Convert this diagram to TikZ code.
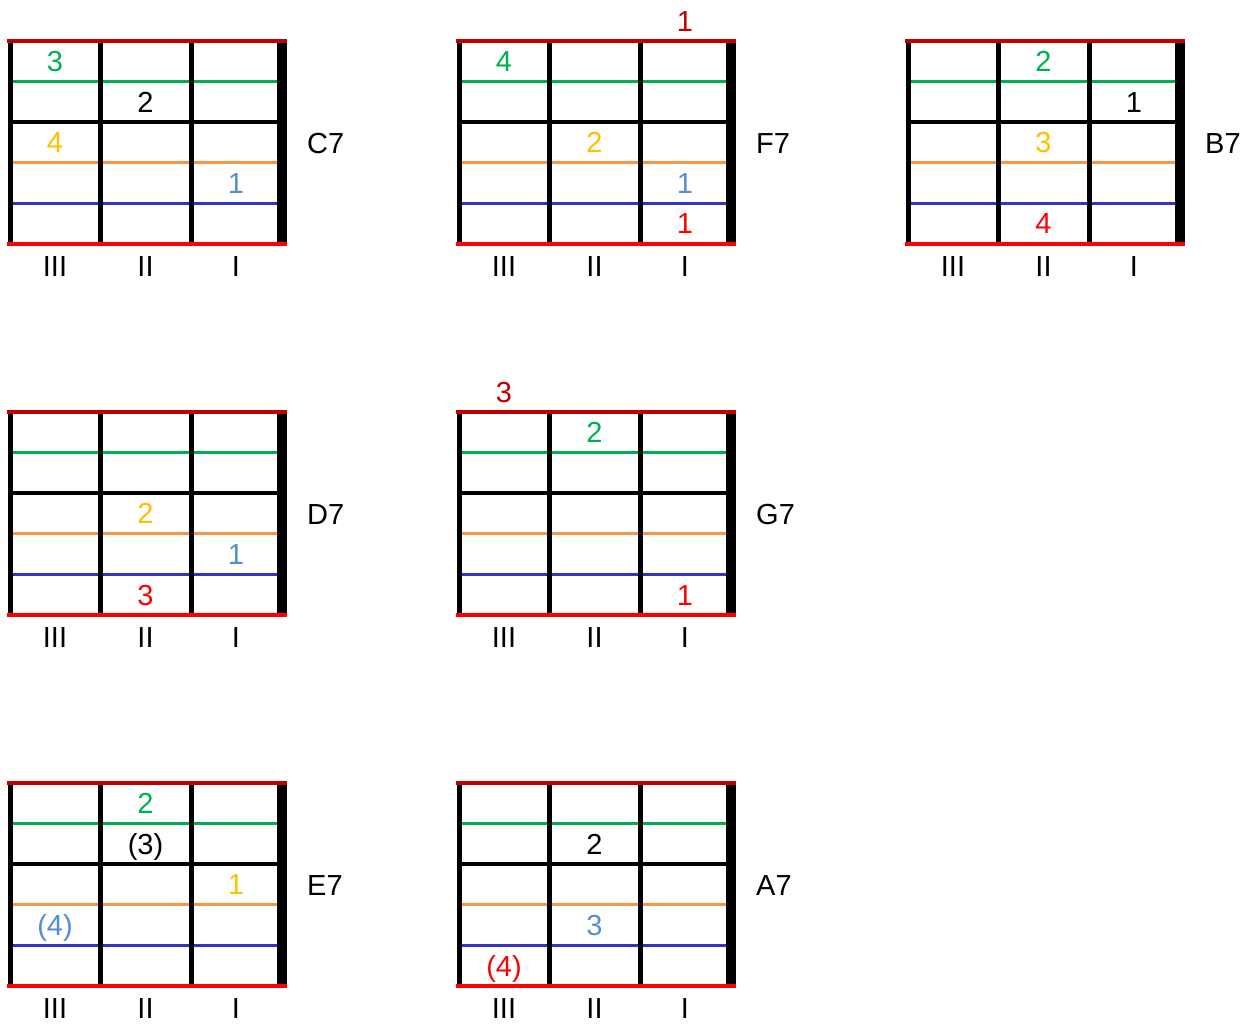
\documentclass[tikz,border=0pt]{standalone}
\usepackage{fontspec}
\setmainfont{Liberation Sans}
\definecolor{dred}{HTML}{C00000}
\definecolor{bred}{HTML}{FF0000}
\definecolor{sgreen}{HTML}{00B050}
\definecolor{sorange}{HTML}{F79646}
\definecolor{syellow}{HTML}{FFC000}
\definecolor{sblue}{HTML}{3333CC}
\definecolor{lblue}{HTML}{558ED5}
\tikzset{
  fnum/.style={anchor=base, inner sep=0pt, font=\fontsize{29}{31}\selectfont},
  wire/.style={line width=3.3pt},
  vbar/.style={line width=5pt, black},
  nutbar/.style={line width=10pt, black},
  edge/.style={line width=3.5pt},
}
\newcommand\cellnum[5]{%
  \pgfmathsetmacro\cx{55+90.5*(#1-1)}%
  \pgfmathsetmacro\cy{41+40.6*(#2-0.5)+10.3}%
  \node[fnum,text=#3] (#5) at (\cx,\cy) {#4};}
\newcommand\fretboard[5]{%
  \begin{scope}[shift={(#1,#2)}]
    \draw[wire,sgreen] (12,81.5) -- (277,81.5);
    \draw[wire,black] (12,122) -- (277,122);
    \draw[wire,sorange] (12,162.7) -- (277,162.7);
    \draw[wire,sblue] (12,203.5) -- (277,203.5);
    \draw[vbar] (10,41) -- (10,244);
    \draw[vbar] (100,41) -- (100,244);
    \draw[vbar] (191,41) -- (191,244);
    \draw[nutbar] (282,43) -- (282,244);
    \draw[edge,dred] (7,41) -- (287,41);
    \draw[edge,bred] (7,244) -- (287,244);
    \node[fnum] (#3-III) at (55,276.5) {III};
    \node[fnum] (#3-II) at (145.5,276.5) {II};
    \node[fnum] (#3-I) at (236,276.5) {I};
    \node[fnum,anchor=base west] (#3-name) at (307,153.5) {#3};
    #5
  \end{scope}}
\begin{document}
\begin{tikzpicture}[x=1pt,y=-1pt]
\useasboundingbox[fill=white] (0,0) rectangle (1254,1024);
% C7
\fretboard{0}{0}{C7}{}{%
  \cellnum{1}{1}{sgreen}{3}{c7a}
  \cellnum{2}{2}{black}{2}{c7b}
  \cellnum{1}{3}{syellow}{4}{c7c}
  \cellnum{3}{4}{lblue}{1}{c7d}}
% F7
\fretboard{449}{0}{F7}{}{%
  \node[fnum,text=dred] (f7top) at (236,31.5) {1};
  \cellnum{1}{1}{sgreen}{4}{f7a}
  \cellnum{2}{3}{syellow}{2}{f7b}
  \cellnum{3}{4}{lblue}{1}{f7c}
  \cellnum{3}{5}{bred}{1}{f7d}}
% B7
\fretboard{898}{0}{B7}{}{%
  \cellnum{2}{1}{sgreen}{2}{b7a}
  \cellnum{3}{2}{black}{1}{b7b}
  \cellnum{2}{3}{syellow}{3}{b7c}
  \cellnum{2}{5}{bred}{4}{b7d}}
% D7
\fretboard{0}{371}{D7}{}{%
  \cellnum{2}{3}{syellow}{2}{d7a}
  \cellnum{3}{4}{lblue}{1}{d7b}
  \cellnum{2}{5}{bred}{3}{d7c}}
% G7
\fretboard{449}{371}{G7}{}{%
  \node[fnum,text=dred] (g7top) at (55,31.5) {3};
  \cellnum{2}{1}{sgreen}{2}{g7a}
  \cellnum{3}{5}{bred}{1}{g7b}}
% E7
\fretboard{0}{742}{E7}{}{%
  \cellnum{2}{1}{sgreen}{2}{e7a}
  \cellnum{2}{2}{black}{(3)}{e7b}
  \cellnum{3}{3}{syellow}{1}{e7c}
  \cellnum{1}{4}{lblue}{(4)}{e7d}}
% A7
\fretboard{449}{742}{A7}{}{%
  \cellnum{2}{2}{black}{2}{a7a}
  \cellnum{2}{4}{lblue}{3}{a7b}
  \cellnum{1}{5}{bred}{(4)}{a7c}}
\end{tikzpicture}
\end{document}
